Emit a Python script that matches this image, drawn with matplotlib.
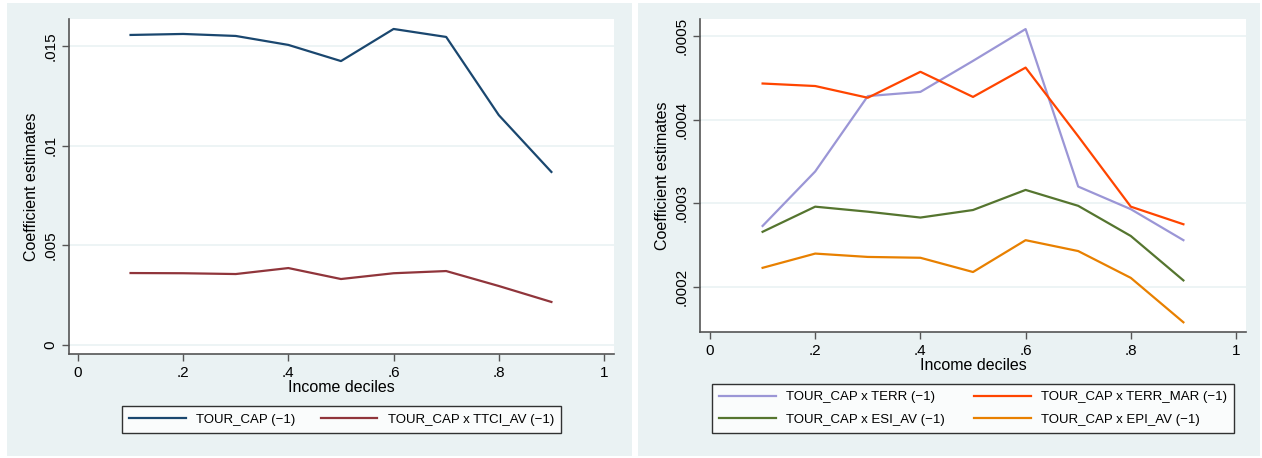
import matplotlib
matplotlib.use('Agg')
import matplotlib.pyplot as plt
from matplotlib.patches import Rectangle

plt.rcParams['font.family'] = ['Liberation Sans', 'DejaVu Sans']

# Data
deciles = [0.1, 0.2, 0.3, 0.4, 0.5, 0.6, 0.7, 0.8, 0.9]

tour_cap = [0.01555, 0.0156, 0.0155, 0.01505, 0.01424, 0.01585, 0.01545, 0.01153, 0.00868]
tour_ttci = [0.00361, 0.0036, 0.00356, 0.00386, 0.00331, 0.0036, 0.00371, 0.00296, 0.00216]

tour_terr = [0.000273, 0.000338, 0.000428, 0.000433, 0.00047, 0.000508, 0.00032, 0.000293, 0.000256]
tour_terr_mar = [0.000443, 0.00044, 0.000426, 0.000457, 0.000427, 0.000462, 0.00038, 0.000296, 0.000275]
tour_esi = [0.000266, 0.000296, 0.00029, 0.000283, 0.000292, 0.000316, 0.000297, 0.000261, 0.000208]
tour_epi = [0.000223, 0.00024, 0.000236, 0.000235, 0.000218, 0.000256, 0.000243, 0.000211, 0.000158]

x_ticks = [0, 0.2, 0.4, 0.6, 0.8, 1]
x_labels = ['0', '.2', '.4', '.6', '.8', '1']
left_yticks = [0, 0.005, 0.01, 0.015]
left_ylabels = ['0', '.005', '.01', '.015']
right_yticks = [0.0002, 0.0003, 0.0004, 0.0005]
right_ylabels = ['.0002', '.0003', '.0004', '.0005']

W, H = 1262, 458
bg = '#eaf2f3'
fig = plt.figure(figsize=(W / 100, H / 100), dpi=100)


def box(x0, y0, x1, y1):
    # pixel box -> figure fraction [left, bottom, width, height]
    return [x0 / W, 1 - y1 / H, (x1 - x0) / W, (y1 - y0) / H]


# grey graph regions behind each panel
for (x0, y0, x1, y1) in [(7, 3, 632, 456), (638, 3, 1260, 456)]:
    l, b, w, h = box(x0, y0, x1, y1)
    fig.patches.append(Rectangle((l, b), w, h, transform=fig.transFigure,
                                 facecolor=bg, edgecolor='none', zorder=-5))


def style(ax, yticks, ylabels):
    ax.set_facecolor('white')
    for s in ['top', 'right']:
        ax.spines[s].set_visible(False)
    for s in ['left', 'bottom']:
        ax.spines[s].set_color('#555555')
        ax.spines[s].set_linewidth(1.2)
    ax.set_xticks(x_ticks)
    ax.set_xticklabels(x_labels, fontsize=11)
    ax.set_yticks(yticks)
    ax.set_yticklabels(ylabels, fontsize=11, rotation=90, va='center')
    ax.tick_params(length=5, color='#555555', width=1)
    ax.grid(axis='y', color=bg, linewidth=1.2)
    ax.set_axisbelow(True)
    ax.set_xlabel('Income deciles', fontsize=11.5, labelpad=0)
    ax.set_ylabel('Coefficient estimates', fontsize=11.5, labelpad=3)


# Left panel
ax1 = fig.add_axes(box(69, 19, 614, 354))
ax1.plot(deciles, tour_cap, color='#1a476f', lw=1.6, label='TOUR_CAP (\u22121)')
ax1.plot(deciles, tour_ttci, color='#90353b', lw=1.6, label='TOUR_CAP x TTCI_AV (\u22121)')
ax1.set_xlim(-0.017, 1.019)
ax1.set_ylim(-0.00045, 0.01635)
style(ax1, left_yticks, left_ylabels)
l, b, w, h = box(127, 405, 556, 434)
leg1 = ax1.legend(loc='center', bbox_to_anchor=(l, b, w, h), bbox_transform=fig.transFigure,
                  ncol=2, fontsize=9.5, frameon=True, fancybox=False, handlelength=4.3,
                  columnspacing=1.9, borderpad=0.55)
leg1.get_frame().set_edgecolor('black')
leg1.get_frame().set_linewidth(1)

# Right panel
ax2 = fig.add_axes(box(700, 19, 1246, 332))
ax2.plot(deciles, tour_terr, color='#9b96d6', lw=1.6, label='TOUR_CAP x TERR (\u22121)')
ax2.plot(deciles, tour_terr_mar, color='#ff4500', lw=1.6, label='TOUR_CAP x TERR_MAR (\u22121)')
ax2.plot(deciles, tour_esi, color='#55752f', lw=1.6, label='TOUR_CAP x ESI_AV (\u22121)')
ax2.plot(deciles, tour_epi, color='#e88000', lw=1.6, label='TOUR_CAP x EPI_AV (\u22121)')
ax2.set_xlim(-0.019, 1.019)
ax2.set_ylim(0.0001464, 0.00052)
style(ax2, right_yticks, right_ylabels)
l, b, w, h = box(720, 383, 1226, 434)
handles, labels = ax2.get_legend_handles_labels()
# order so that row 1 = TERR, TERR_MAR ; row 2 = ESI, EPI
order = [0, 2, 1, 3]
leg2 = ax2.legend([handles[i] for i in order], [labels[i] for i in order],
                  loc='center', bbox_to_anchor=(l, b, w, h), bbox_transform=fig.transFigure,
                  ncol=2, fontsize=9.5, frameon=True, fancybox=False, handlelength=4.3,
                  columnspacing=2.2, borderpad=0.55, labelspacing=0.8)
leg2.get_frame().set_edgecolor('black')
leg2.get_frame().set_linewidth(1)

fig.savefig('out.png', dpi=100)
